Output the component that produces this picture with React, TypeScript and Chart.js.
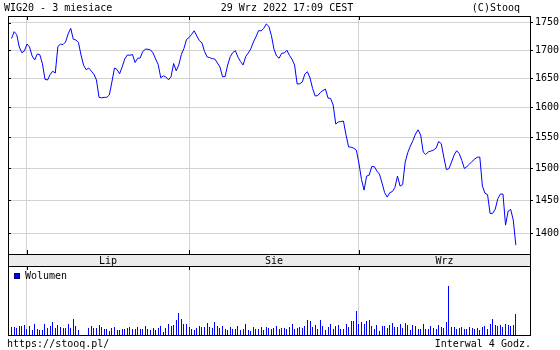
import { useEffect, useRef } from "react";
import { Chart, registerables } from "chart.js";

Chart.register(...registerables);

// ---- data (4-hour bars, 29 Jun 2022 – 29 Sep 2022) ----
const priceValues: number[] = [
  // 29-30 Jun
  1721, 1733.5, 1728.3, 1705.6, 1695.3, 1698.4,
  // Jul
  1711, 1705.6, 1689.4, 1682.3, 1693, 1691.6, 1675.5, 1648.2, 1647, 1656.6,
  1662.4, 1659.2, 1706.5, 1710.8, 1709.9, 1714.7, 1729.6, 1739.6, 1719.6, 1718.3,
  1713.6, 1691.2, 1673, 1665, 1668, 1662.7, 1657.1, 1647, 1617, 1616.2,
  1617, 1617, 1621, 1643.5, 1668, 1665.4, 1657.8, 1670.2, 1684.1, 1691.2,
  1690.7, 1692.1, 1677.8, 1685.3, 1685.9, 1697.5, 1701.6, 1701.6, 1700.2, 1694.8,
  1684.1, 1673.9, 1650.8, 1654.3, 1652.2, 1647.3, 1653.1, 1676, 1663.1, 1673.4,
  1692.1, 1702.9, 1719.2,
  // Aug
  1722.8, 1728.7, 1735.1, 1725.6, 1717, 1713.2, 1697.5, 1687.8, 1686.4, 1684.7,
  1683.9, 1677, 1669.8, 1652.6, 1653.1, 1673.4, 1688.3, 1695.5, 1698.8, 1687.3,
  1679.6, 1673.4, 1688.3, 1694.8, 1702.4, 1714.7, 1724.3, 1735.3, 1735.1, 1739.4,
  1747.7, 1743.1, 1726.5, 1701.5, 1689.4, 1685.5, 1694.2, 1694.8, 1699.8, 1690.7,
  1683.6, 1673.4, 1640, 1640.4, 1643.5, 1657.4, 1661.5, 1650.5, 1632.4, 1619.3,
  1620.1, 1625.2, 1628.7, 1631.2, 1615.9, 1615.3, 1603.9, 1572, 1575.3, 1576.1,
  1576.9, 1553.7, 1534.4, 1533.8, 1532.4, 1529.2,
  // Sep
  1508.3, 1482.5, 1465.7, 1487.6, 1489.2, 1502.7, 1502.7, 1495.5, 1490.8, 1476.6,
  1461.8, 1454.9, 1461.8, 1463.4, 1469.8, 1487.6, 1472, 1474.3, 1510, 1525.2,
  1535.7, 1544.7, 1555.4, 1562.4, 1553.7, 1526, 1522, 1526.5, 1527.6, 1529.2,
  1532.4, 1543, 1539.7, 1517.9, 1497.9, 1499.5, 1509.9, 1521.1, 1528.1, 1523.5,
  1512.6, 1499.5, 1502.7, 1506.7, 1510.9, 1514.7, 1517.6, 1517.9, 1472, 1461,
  1458.7, 1429.8, 1430.1, 1436.5, 1452.6, 1459.6, 1459.6, 1412.4, 1433.5, 1436.1,
  1419.9, 1382.8,
];

const volumeValues: (number | null)[] = [
  8, 8, 7.3, 8.7, 8.7, 10,
  6, 9.3, 5, 11, 6, 4.7, 5, 11, 7.3, 9.3, 13, 7.3, 10, 8, 6.7, 7.3, 11, 7.3, 16, 9.3, 5,
  null, null, null,
  7, 9, 7, 7.3, 10, 8, 5.7, 6, 4, 7.3, 8, 5.3, 5.3, 6, 6, 7.3, 8, 5.7, 6, 8,
  6, 6, 9, 6, 4.7, 7, 5, 7, 9, 2.7, 7, 11, 9.3, 10, 15, 22, 16, 11, 11, 8,
  6, 4.7, 7, 9, 8, 8, 12, 8, 7, 13, 9.3, 7, 9, 6, 5, 8, 6, 6, 9, 5,
  6, 11, 5, 4, 8, 6, 6, 8, 5, 8, 7,
  6, 7, 9, 6, 7, 7, 6, 8, 11, 6, 7, 8, 7, 9, 15, 14, 8, 10, 6, 15,
  9, 5, 8, 11, 6, 9, 10, 6, 6, 11, 8, 14, 14, 24, 11, 13, 11, 14, 15, 9,
  6, 10, 4, 9, 9, 7, 10, 12, 8, 8,
  11.3, 7.3, 12.3, 10.3, 5.3, 10.3, 9.3, 6.3, 6.3, 11.3, 6.3, 6.3, 9.3, 7.3, 6.3, 10.3,
  8.3, 7.3, 13.3, 49.3, 8.3, 8.3, 6.3, 7.3, 8.3, 6.3, 6.3, 8.3, 7.3, 6.3, 7.3, 5.3,
  8.3, 9.3, 6.3, 11.3, 16.3, 10.3, 9.3, 10.3, 8.3, 11.3, 10.3, 9.3, 10.3, 21.3,
];

const priceTicks = [1400, 1450, 1500, 1550, 1600, 1650, 1700, 1750];
const monthLabels = ["Lip", "Sie", "Wrz"];
const monthStarts = [6, 69, 135]; // bar index where each month begins
const rangeStart = -1.38;
const rangeEnd = 201.5;
const priceMin = 1257.2;
const priceMax = 1762.5;
const pricePanelBottom = 1369.6;
const volumeMax = 319;
const volumePanelTop = 69;

const titleText = "WIG20 - 3 miesiace";
const dateText = "29 Wrz 2022 17:09 CEST";
const copyText = "(C)Stooq";
const legendText = "Wolumen";
const urlText = "https://stooq.pl/";
const intervalText = "Interwal 4 Godz.";

const FONT = "10px 'DejaVu Sans Mono', monospace";
const BLUE = "#0000ff";
const GRID = "#d3d3d3";

// snap 1px volume bars to whole pixels so they stay crisp
const snapBars = {
  id: "snapBars",
  beforeDatasetDraw(chart: any, args: any) {
    const meta = args.meta;
    if (meta.type !== "bar") return;
    meta.data.forEach((el: any) => {
      el.x = Math.floor(el.x) + 0.5;
      el.y = Math.round(el.y);
    });
  },
};

const decor = {
  id: "stooqDecor",
  afterDraw(chart: any) {
    const { ctx, chartArea: a, scales } = chart;
    const xs = scales.x;
    const yp = scales.y;
    const yv = scales.yv;
    const L = Math.round(a.left);
    const R = Math.round(a.right);
    const T = Math.round(a.top);
    const B = Math.round(a.bottom);
    const sTop = Math.round(yp.getPixelForValue(pricePanelBottom));
    const sBot = Math.round(yv.getPixelForValue(volumePanelTop));
    ctx.save();
    ctx.fillStyle = "#ececec";
    ctx.fillRect(L, sTop, R - L, sBot - sTop);
    ctx.strokeStyle = "#000";
    ctx.lineWidth = 1;
    const h = (y: number, x0: number, x1: number) => {
      ctx.beginPath();
      ctx.moveTo(x0, y + 0.5);
      ctx.lineTo(x1, y + 0.5);
      ctx.stroke();
    };
    const v = (x: number, y0: number, y1: number) => {
      ctx.beginPath();
      ctx.moveTo(x + 0.5, y0);
      ctx.lineTo(x + 0.5, y1);
      ctx.stroke();
    };
    h(T, L, R + 1);
    h(sTop, L, R + 1);
    h(sBot, L, R + 1);
    h(B, L, R + 1);
    v(L, T, B + 1);
    monthStarts.forEach((s) => {
      const x = Math.round(xs.getPixelForValue(s));
      v(x, T, T + 4);
      v(x, sTop - 4, sTop);
      v(x, sBot, sBot + 4);
    });
    priceTicks.forEach((t) => {
      const y = Math.round(yp.getPixelForValue(t));
      h(y, L, L + 3);
    });
    ctx.font = FONT;
    ctx.fillStyle = "#000";
    ctx.textBaseline = "middle";
    ctx.textAlign = "center";
    monthLabels.forEach((m, i) => {
      const x0 = xs.getPixelForValue(monthStarts[i]);
      const x1 = xs.getPixelForValue(i + 1 < monthStarts.length ? monthStarts[i + 1] : rangeEnd);
      ctx.fillText(m, (x0 + x1) / 2, (sTop + sBot) / 2 + 1);
    });
    // header
    ctx.textAlign = "left";
    ctx.fillText(titleText, 4, 8);
    ctx.textAlign = "center";
    ctx.fillText(dateText, 287, 8);
    ctx.textAlign = "right";
    ctx.fillText(copyText, 520, 8);
    // legend
    ctx.fillStyle = BLUE;
    ctx.fillRect(L + 6, sBot + 7, 6, 6);
    ctx.strokeStyle = "#000080";
    ctx.strokeRect(L + 6.5, sBot + 7.5, 5, 5);
    ctx.fillStyle = "#000";
    ctx.textAlign = "left";
    ctx.fillText(legendText, L + 17, sBot + 10);
    // footer
    ctx.fillText(urlText, 7, 344);
    ctx.textAlign = "right";
    ctx.fillText(intervalText, R + 1, 344);
    ctx.restore();
  },
};

export default function App() {
  const ref = useRef<HTMLCanvasElement | null>(null);
  useEffect(() => {
    if (!ref.current) return;
    const chart = new Chart(ref.current, {
      type: "line",
      data: {
        datasets: [
          {
            type: "line",
            data: priceValues.map((p, i) => ({ x: i, y: p })),
            xAxisID: "x",
            yAxisID: "y",
            borderColor: BLUE,
            borderWidth: 1,
            pointRadius: 0,
            fill: false,
            tension: 0,
          },
          {
            type: "bar",
            data: volumeValues.map((q, i) => ({ x: i, y: q })),
            xAxisID: "x",
            yAxisID: "yv",
            backgroundColor: BLUE,
            borderWidth: 0,
            barThickness: 1,
            inflateAmount: 0,
          } as any,
        ],
      },
      options: {
        animation: false,
        responsive: false,
        devicePixelRatio: 1,
        layout: { padding: { left: 8, top: 16, right: 0, bottom: 15 } },
        plugins: { legend: { display: false }, tooltip: { enabled: false } },
        scales: {
          x: {
            type: "linear",
            min: rangeStart,
            max: rangeEnd,
            bounds: "data",
            offset: false,
            position: "bottom",
            ticks: { display: false },
            grid: { color: GRID, drawTicks: false, offset: false },
            border: { display: false },
            afterBuildTicks: (s: any) => {
              s.ticks = monthStarts.map((m) => ({ value: m }));
            },
            afterFit: (s: any) => {
              s.height = 0;
            },
          },
          y: {
            type: "logarithmic",
            position: "right",
            min: priceMin,
            max: priceMax,
            bounds: "data",
            ticks: {
              autoSkip: false,
              color: "#000",
              font: { family: "'DejaVu Sans Mono', monospace", size: 10 },
              padding: 2,
              callback: (val: any) => String(val),
            },
            grid: { color: GRID, tickColor: "#000", tickLength: 3 },
            border: { display: true, color: "#000" },
            afterBuildTicks: (s: any) => {
              s.ticks = priceTicks.map((t) => ({ value: t }));
            },
            afterFit: (s: any) => {
              s.width = 30;
            },
          },
          yv: {
            type: "linear",
            display: false,
            min: 0,
            max: volumeMax,
          },
        },
      } as any,
      plugins: [snapBars, decor],
    });
    return () => chart.destroy();
  }, []);
  return (
    <div style={{ position: "absolute", left: 0, top: 0, width: 560, height: 350, background: "#fff" }}>
      <canvas ref={ref} width={560} height={350} style={{ display: "block" }} />
    </div>
  );
}
